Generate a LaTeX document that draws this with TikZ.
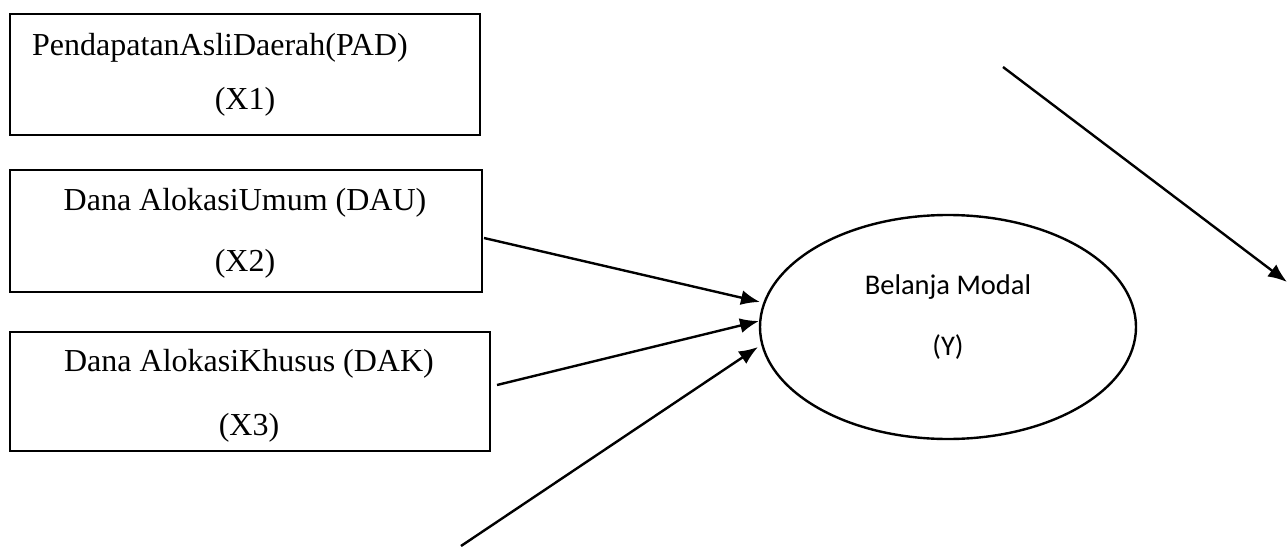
\documentclass[tikz,border=0pt]{standalone}
\usepackage{fontspec}
\setmainfont{Liberation Serif}
\newfontfamily\calib{Carlito}
\usetikzlibrary{arrows.meta,shapes.geometric}
\begin{document}
\begin{tikzpicture}[x=1pt,y=-1pt,
  varbox/.style={draw,line width=2.8pt,rectangle,inner sep=0pt},
  lbl/.style={inner sep=0pt,font=\fontsize{32}{38}\selectfont},
  ylbl/.style={inner sep=0pt,font=\calib\fontsize{28.5}{34}\selectfont},
  conn/.style={line width=2.4pt,-{Latex[length=19pt,width=15pt]}}]
\useasboundingbox (0,0) rectangle (1287,546);
% boxes
\node[varbox,minimum width=470pt,minimum height=121pt] (x1) at (245,74.5) {};
\node[varbox,minimum width=472pt,minimum height=122pt] (x2) at (246,231) {};
\node[varbox,minimum width=480pt,minimum height=119pt] (x3) at (250,391.5) {};
% texts
\node[lbl,anchor=west] (t1a) at (32,48) {PendapatanAsliDaerah(PAD)};
\node[lbl] (t1b) at (245,102) {(X1)};
\node[lbl] (t2a) at (245,203) {Dana AlokasiUmum (DAU)};
\node[lbl] (t2b) at (245,264) {(X2)};
\node[lbl] (t3a) at (249,364) {Dana AlokasiKhusus (DAK)};
\node[lbl] (t3b) at (249,428) {(X3)};
% ellipse
\node[draw,line width=2.4pt,ellipse,minimum width=376pt,minimum height=224pt,inner sep=0pt] (y) at (948,327) {};
\node[ylbl] (ya) at (948,287) {Belanja Modal};
\node[ylbl] (yb) at (948,347) {(Y)};
% connector end points
\coordinate (s1) at (484,238);
\coordinate (e1) at (760,302);
\coordinate (s2) at (497,385);
\coordinate (e2) at (759,321);
\coordinate (s3) at (461,546);
\coordinate (e3) at (758,347);
\coordinate (s4) at (1003,67);
\coordinate (e4) at (1287,282);
\draw[conn] (s1) -- (e1);
\draw[conn] (s2) -- (e2);
\draw[conn] (s3) -- (e3);
\draw[conn] (s4) -- (e4);
\end{tikzpicture}
\end{document}
